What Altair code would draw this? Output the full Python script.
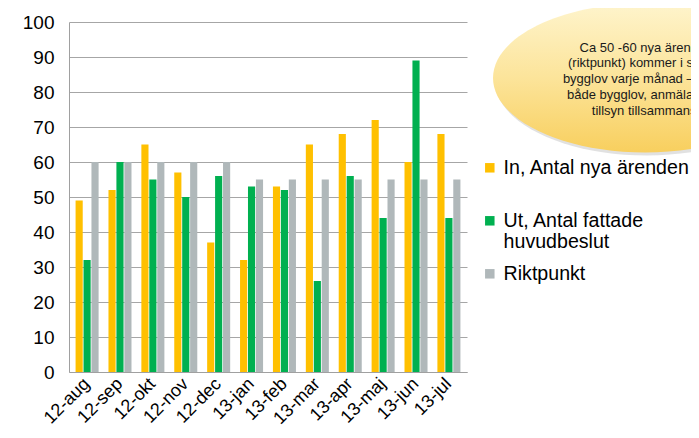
import altair as alt
import pandas as pd

months = ["12-aug", "12-sep", "12-okt", "12-nov", "12-dec", "13-jan",
          "13-feb", "13-mar", "13-apr", "13-maj", "13-jun", "13-jul"]
series = ["In, Antal nya ärenden", "Ut, Antal fattade huvudbeslut", "Riktpunkt"]
colors = ["#FFC000", "#00B050", "#B0B8BA"]
in_vals = [49, 52, 65, 57, 37, 32, 53, 65, 68, 72, 60, 68]
ut_vals = [32, 60, 55, 50, 56, 53, 52, 26, 56, 44, 89, 44]
rikt_vals = [60, 60, 60, 60, 60, 55, 55, 55, 55, 55, 55, 55]
y_ticks = list(range(0, 101, 10))
note_lines = ["Ca 50 -60 nya ärenden", "(riktpunkt) kommer i snitt in",
              "bygglov  varje månad – gäller", "både bygglov, anmälan och",
              "tillsyn tillsammans."]

rows = []
for i, m in enumerate(months):
    for s, vals in zip(series, [in_vals, ut_vals, rikt_vals]):
        rows.append({"month": m, "series": s, "value": vals[i]})
df = pd.DataFrame(rows)

FONT = "Liberation Sans"

label_expr = ("datum.label == 'Ut, Antal fattade huvudbeslut' ? ['Ut, Antal fattade', 'huvudbeslut'] : "
              "(datum.label == 'In, Antal nya ärenden' ? ['In, Antal nya ärenden', ' '] : datum.label)")

bars = alt.Chart(df).mark_bar(strokeWidth=0).encode(
    x=alt.X("month:N", sort=months, title=None,
            scale=alt.Scale(paddingInner=0.3, paddingOuter=0.2),
            axis=alt.Axis(labelAngle=-45, labelAlign="right", labelBaseline="middle",
                          labelFontSize=18, labelColor="#000000", labelFont=FONT,
                          domainColor="#a0a0a0", ticks=False, labelPadding=9, grid=False)),
    xOffset=alt.XOffset("series:N", sort=series, scale=alt.Scale(paddingInner=0.1)),
    y=alt.Y("value:Q", title=None, scale=alt.Scale(domain=[0, 100], nice=False),
            axis=alt.Axis(values=y_ticks, labelFontSize=19, labelFont=FONT, labelColor="#000000",
                          gridColor="#a6a6a6", domainColor="#a0a0a0", ticks=False, labelPadding=15)),
    color=alt.Color("series:N", sort=series,
                    scale=alt.Scale(domain=series, range=colors),
                    legend=alt.Legend(title=None, orient="none", legendX=411, legendY=136,
                                      symbolType="square", symbolSize=90, symbolStrokeWidth=0,
                                      labelFontSize=19.6, labelFont=FONT, labelColor="#000000",
                                      labelLimit=400, rowPadding=11, labelOffset=4,
                                      labelExpr=label_expr))
)

ellipse_path = "M -1 0 A 1 0.49 0 1 0 1 0 A 1 0.49 0 1 0 -1 0 Z"
one = pd.DataFrame({"k": [0]})

shadow = alt.Chart(one).mark_point(shape=ellipse_path, size=92416, filled=True,
                                   color="#9a9a9a", opacity=0.3).encode(
    x=alt.value(578), y=alt.value(59))

ellipse = alt.Chart(one).mark_point(
    shape=ellipse_path, size=92416, filled=True, opacity=1, strokeWidth=0,
    fill=alt.LinearGradient(gradient="linear", x1=0, x2=0, y1=0, y2=1,
                            stops=[alt.GradientStop(color="#FEF4CC", offset=0),
                                   alt.GradientStop(color="#FCE49A", offset=0.5),
                                   alt.GradientStop(color="#F8CF5E", offset=1)])
).encode(x=alt.value(576), y=alt.value(56))

note = alt.Chart(one).mark_text(text=note_lines, align="center", baseline="middle",
                                font=FONT, fontSize=13, lineHeight=15.75, color="#1a1a1a").encode(
    x=alt.value(577), y=alt.value(25.5))

chart = alt.layer(bars, shadow, ellipse, note).properties(
    width=398, height=350,
    autosize=alt.AutoSizeParams(type="none"),
    padding={"left": 61, "top": 14, "right": 224, "bottom": 58},
    background="white"
).configure_view(stroke=None)

chart.save("out.html", embed_options={"renderer": "svg", "actions": False})
